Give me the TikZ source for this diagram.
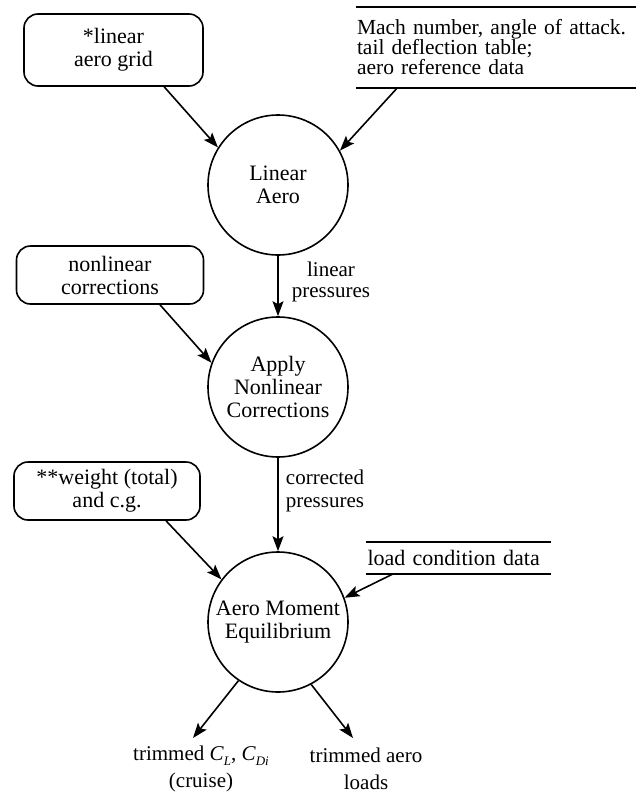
\documentclass[tikz,border=0pt]{standalone}
\usepackage{fontspec}
\setmainfont{Liberation Serif}
\usetikzlibrary{arrows.meta,calc}
% lowered italic subscript for the coefficient symbols
\newcommand\lowsub[1]{\raisebox{-0.55ex}{\fontsize{13}{13}\selectfont\textit{#1}}}
\begin{document}
\begin{tikzpicture}[x=1pt,y=-1pt,
  every node/.style={font=\fontsize{22}{23}\selectfont},
  inbox/.style={draw, line width=1.6pt, rounded corners=14pt, align=center, inner sep=0pt},
  process/.style={draw, circle, line width=1.6pt, minimum size=140pt, align=center, inner sep=0pt},
  datastore/.style={align=left, inner ysep=0pt, inner xsep=1pt},
  flowlabel/.style={align=center, inner sep=0pt},
  arr/.style={line width=1.6pt, -{Stealth[length=15pt,width=11pt,inset=3pt]}},
  rule/.style={line width=1.6pt}
]
\useasboundingbox (0,0) rectangle (642,806);

% external inputs (rounded boxes)
\node[inbox, minimum width=179pt, minimum height=72pt] (aerogrid) at (113.5,50) {*linear\\aero grid};
\node[inbox, minimum width=187pt, minimum height=58pt] (nonlin) at (110,275) {nonlinear\\corrections};
\node[inbox, minimum width=186pt, minimum height=58pt] (weight) at (107,491) {**weight (total)\\and c.g.};

% data stores (text between two rules)
\node[datastore, text width=278pt, minimum height=81pt, font=\fontsize{21.5}{20}\selectfont] (mach) at (496,47.5)
  {Mach number, angle of attack.\\tail deflection table;\\aero reference data};
\draw[rule] (mach.north west) -- (mach.north east);
\draw[rule] (mach.south west) -- (mach.south east);

\node[datastore, text width=182pt, minimum height=32pt] (load) at (458.5,558) {load condition data};
\draw[rule] (load.north west) -- (load.north east);
\draw[rule] (load.south west) -- (load.south east);

% processes
\node[process] (linear) at (278,185) {Linear\\Aero};
\node[process] (apply) at (278,387) {Apply\\Nonlinear\\Corrections};
\node[process] (moment) at (278,622) {Aero Moment\\Equilibrium};

% flow labels
\node[flowlabel, font=\fontsize{21}{21}\selectfont] (linpress) at (331,282) {linear\\pressures};
\node[flowlabel, font=\fontsize{21}{23}\selectfont] (corrpress) at (325,491) {corrected\\pressures};

% outputs
\node[flowlabel, font=\fontsize{21}{27}\selectfont] (trimcl) at (201,769)
  {trimmed \textit{C}\lowsub{L}, \textit{C}\lowsub{Di}\\(cruise)};
\node[flowlabel, font=\fontsize{21}{27}\selectfont] (trimload) at (366,769) {trimmed aero\\loads};
\coordinate (tipcl) at (193,738);
\coordinate (tipload) at (353,738);

% flows
\draw[arr] (aerogrid.-36) -- (linear.148);
\draw[arr] ($(mach.south)+(-99,0)$) -- (linear.29);
\draw[arr] (linear) -- (apply);
\draw[arr] ($(nonlin.south)+(50,0)$) -- (apply.160);
\draw[arr] (apply) -- (moment);
\draw[arr] ($(weight.south)+(59,0)$) -- (moment.143);
\draw[arr] ($(load.south)+(-66,0)$) -- (moment.20);
\draw[arr] (moment.-124) -- (tipcl);
\draw[arr] (moment.-62) -- (tipload);
\end{tikzpicture}
\end{document}
